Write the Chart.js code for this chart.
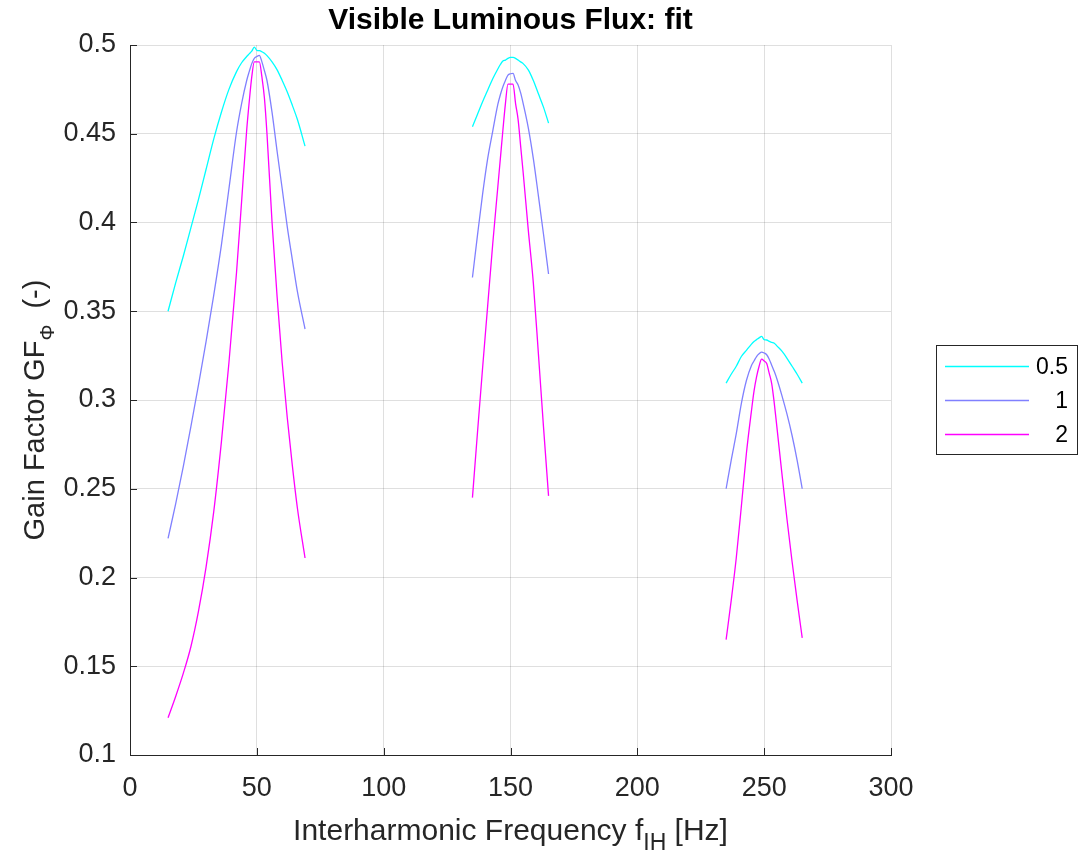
<!DOCTYPE html>
<html>
<head>
<meta charset="utf-8">
<script src="https://cdn.jsdelivr.net/npm/chart.js@4/dist/chart.umd.min.js"></script>
<style>
  body { margin: 0; background: #fff; }
  #wrap { width: 1082px; height: 856px; position: relative; }
</style>
</head>
<body>
<div id="wrap"><canvas id="fluxChart"></canvas></div>
<script>
// frequency samples (Hz) for the three peaks
const freq50 = [15, 18, 21, 24, 27, 30, 33, 36, 39, 42, 44, 46, 47, 48, 49, 50, 51, 52, 53, 54, 56, 58, 60, 62, 64, 66, 69];
const freq150 = [135, 137, 139, 141, 143, 145, 146, 147, 148, 149, 150, 151, 152, 153, 154, 155, 157, 159, 161, 163, 165];
const freq250 = [235, 237, 239, 241, 243, 245, 246, 247, 248, 249, 250, 251, 252, 253, 254, 255, 257, 259, 261, 263, 265];

// gain factor, modulation depth 0.5
const gf05_50 = [0.350, 0.366, 0.381, 0.397, 0.413, 0.430, 0.447, 0.462, 0.475, 0.485, 0.490, 0.4935, 0.495, 0.4965, 0.4988, 0.497, 0.4968, 0.4962, 0.4953, 0.494, 0.4905, 0.486, 0.480, 0.4735, 0.466, 0.458, 0.443];
const gf05_150 = [0.454, 0.461, 0.468, 0.4745, 0.481, 0.4865, 0.489, 0.491, 0.4915, 0.4925, 0.493, 0.493, 0.4925, 0.4915, 0.4905, 0.4895, 0.486, 0.480, 0.4725, 0.465, 0.456];
const gf05_250 = [0.3095, 0.3145, 0.319, 0.3245, 0.328, 0.3315, 0.333, 0.334, 0.335, 0.3358, 0.334, 0.3338, 0.333, 0.3325, 0.332, 0.3305, 0.3275, 0.3235, 0.319, 0.3145, 0.3095];

// modulation depth 1
const gf1_50 = [0.222, 0.2415, 0.2625, 0.285, 0.3085, 0.333, 0.359, 0.387, 0.419, 0.451, 0.467, 0.480, 0.485, 0.4895, 0.4925, 0.4935, 0.4942, 0.4905, 0.4855, 0.480, 0.462, 0.440, 0.419, 0.3975, 0.379, 0.361, 0.340];
const gf1_150 = [0.369, 0.393, 0.416, 0.436, 0.4515, 0.4665, 0.472, 0.4765, 0.480, 0.483, 0.4838, 0.484, 0.480, 0.4775, 0.473, 0.467, 0.4535, 0.436, 0.415, 0.3935, 0.371];
const gf1_250 = [0.250, 0.266, 0.281, 0.298, 0.311, 0.3195, 0.322, 0.3245, 0.326, 0.327, 0.3265, 0.3255, 0.323, 0.3195, 0.316, 0.312, 0.3025, 0.292, 0.280, 0.266, 0.250];

// modulation depth 2
const gf2_50 = [0.121, 0.133, 0.146, 0.161, 0.181, 0.206, 0.237, 0.276, 0.321, 0.372, 0.412, 0.452, 0.468, 0.482, 0.4905, 0.4905, 0.4905, 0.482, 0.470, 0.450, 0.400, 0.358, 0.321, 0.290, 0.263, 0.239, 0.211];
const gf2_150 = [0.245, 0.282, 0.318, 0.353, 0.388, 0.420, 0.436, 0.452, 0.467, 0.478, 0.478, 0.478, 0.467, 0.458, 0.443, 0.428, 0.396, 0.366, 0.326, 0.285, 0.246];
const gf2_250 = [0.165, 0.187, 0.211, 0.240, 0.270, 0.294, 0.305, 0.313, 0.319, 0.323, 0.322, 0.3205, 0.315, 0.309, 0.298, 0.285, 0.2585, 0.2328, 0.209, 0.187, 0.166];

const seriesLabels = ["0.5", "1", "2"];
const seriesColors = ["#00ffff", "#8080ff", "#ff00ff"];
const xTicks = [0, 50, 100, 150, 200, 250, 300];
const yTicks = [0.1, 0.15, 0.2, 0.25, 0.3, 0.35, 0.4, 0.45, 0.5];

const textColor = "#262626";
const fontFam = "'Liberation Sans', Arial, Helvetica, sans-serif";

// join the three peaks into one line, with a gap between them
function joinPeaks(groups) {
  let pts = [];
  groups.forEach((g, i) => {
    if (i > 0) pts.push({ x: g[0][0] - 1, y: null });
    g[0].forEach((f, k) => pts.push({ x: f, y: g[1][k] }));
  });
  return pts;
}

const allSeries = [
  [[freq50, gf05_50], [freq150, gf05_150], [freq250, gf05_250]],
  [[freq50, gf1_50], [freq150, gf1_150], [freq250, gf1_250]],
  [[freq50, gf2_50], [freq150, gf2_150], [freq250, gf2_250]]
];

const datasets = allSeries.map((groups, i) => ({
  label: seriesLabels[i],
  data: joinPeaks(groups),
  borderColor: seriesColors[i],
  backgroundColor: seriesColors[i],
  borderWidth: 1.3,
  pointRadius: 0,
  showLine: true,
  spanGaps: false,
  cubicInterpolationMode: "monotone"
}));

// title, axis titles (with subscripts), inward ticks and legend box
const decorPlugin = {
  id: "decor",
  afterDraw(chart) {
    const ctx = chart.ctx;
    const area = chart.chartArea;
    const xs = chart.scales.x, ys = chart.scales.y;
    ctx.save();

    // inward tick marks
    ctx.strokeStyle = textColor;
    ctx.lineWidth = 1;
    ctx.beginPath();
    xTicks.forEach(v => {
      const px = Math.round(xs.getPixelForValue(v)) + 0.5;
      ctx.moveTo(px, area.bottom);
      ctx.lineTo(px, area.bottom - 7);
    });
    yTicks.forEach(v => {
      const py = Math.round(ys.getPixelForValue(v)) + 0.5;
      ctx.moveTo(area.left, py);
      ctx.lineTo(area.left + 7, py);
    });
    ctx.stroke();

    // title
    ctx.fillStyle = "#000";
    ctx.font = "bold 30px " + fontFam;
    ctx.textAlign = "center";
    ctx.textBaseline = "middle";
    ctx.fillText("Visible Luminous Flux: fit", (area.left + area.right) / 2, 21);

    // text with a lowered subscript part, centred on cx
    ctx.fillStyle = textColor;
    const drawSubText = (parts, cx, cy) => {
      let w = 0;
      parts.forEach(p => { ctx.font = p.size + "px " + fontFam; w += ctx.measureText(p.t).width; });
      let x = cx - w / 2;
      ctx.textAlign = "left";
      ctx.textBaseline = "alphabetic";
      parts.forEach(p => {
        ctx.font = p.size + "px " + fontFam;
        ctx.fillText(p.t, x, cy + (p.dy || 0));
        x += ctx.measureText(p.t).width;
      });
    };
    drawSubText([
      { t: "Interharmonic Frequency f", size: 30 },
      { t: "IH", size: 23, dy: 10 },
      { t: " [Hz]", size: 30 }
    ], (area.left + area.right) / 2, 840);

    // y axis title
    ctx.save();
    ctx.translate(44, (area.top + area.bottom) / 2 + 10);
    ctx.rotate(-Math.PI / 2);
    drawSubText([
      { t: "Gain Factor GF", size: 29 },
      { t: "\u03a6", size: 20, dy: 10 },
      { t: "  (-)", size: 29 }
    ], 0, 0);
    ctx.restore();

    // legend
    const lx = 936, ly = 345, lw = 141, lh = 109;
    ctx.fillStyle = "#fff";
    ctx.fillRect(lx, ly, lw, lh);
    ctx.strokeStyle = textColor;
    ctx.lineWidth = 1;
    ctx.strokeRect(lx + 0.5, ly + 0.5, lw, lh);
    ctx.font = "23px " + fontFam;
    ctx.textAlign = "right";
    ctx.textBaseline = "middle";
    chart.data.datasets.forEach((ds, i) => {
      const y = ly + 21 + i * 34;
      ctx.strokeStyle = ds.borderColor;
      ctx.lineWidth = 1.3;
      ctx.beginPath();
      ctx.moveTo(lx + 9, y + 0.5);
      ctx.lineTo(lx + 93, y + 0.5);
      ctx.stroke();
      ctx.fillStyle = "#000";
      ctx.fillText(ds.label, lx + 132, y + 2);
    });
    ctx.restore();
  }
};

new Chart(document.getElementById("fluxChart"), {
  type: "scatter",
  data: { datasets: datasets },
  options: {
    responsive: true,
    maintainAspectRatio: false,
    animation: false,
    layout: { padding: { left: 0, top: 45, right: 191, bottom: 0 } },
    plugins: {
      legend: { display: false },
      tooltip: { enabled: false }
    },
    scales: {
      x: {
        type: "linear",
        min: 0,
        max: 300,
        afterBuildTicks: s => { s.ticks = xTicks.map(v => ({ value: v })); },
        afterFit: s => { s.height = 101; },
        grid: { color: "rgba(38,38,38,0.15)", drawTicks: false },
        border: { color: textColor },
        ticks: { color: textColor, padding: 17, font: { family: fontFam, size: 27 }, maxRotation: 0 }
      },
      y: {
        type: "linear",
        min: 0.1,
        max: 0.5,
        afterBuildTicks: s => { s.ticks = yTicks.map(v => ({ value: v })); },
        afterFit: s => { s.width = 130; },
        grid: { color: "rgba(38,38,38,0.15)", drawTicks: false },
        border: { color: textColor },
        ticks: {
          color: textColor,
          padding: 14,
          font: { family: fontFam, size: 27 },
          callback: v => String(+v.toFixed(2))
        }
      }
    }
  },
  plugins: [decorPlugin]
});
</script>
</body>
</html>
